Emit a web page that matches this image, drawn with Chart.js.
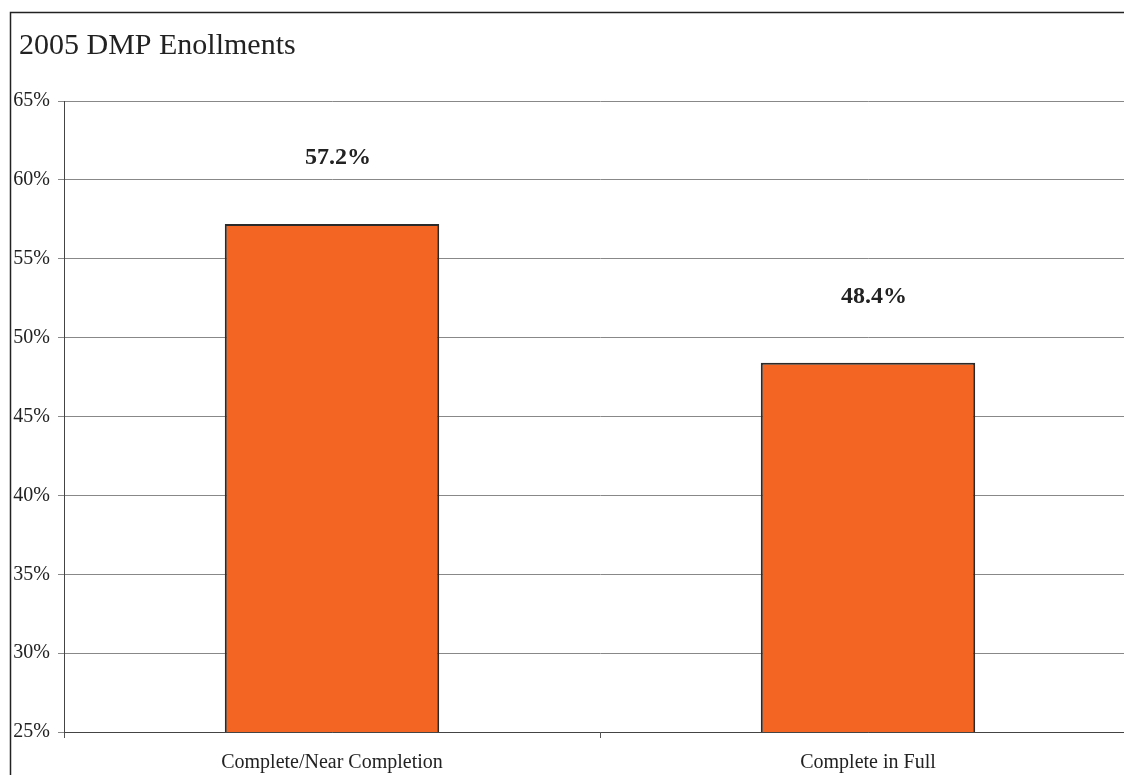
<!DOCTYPE html>
<html><head><meta charset="utf-8">
<script src="https://cdn.jsdelivr.net/npm/chart.js@4/dist/chart.umd.min.js"></script>
<style>
html,body{margin:0;padding:0;overflow:hidden;background:#fff;width:1124px;height:775px;}
#wrap{position:absolute;left:0;top:0;width:1136px;height:775px;}
</style></head>
<body>
<div id="wrap"><canvas id="c" width="1136" height="775"></canvas></div>
<script>
const chartTitle = "2005 DMP Enollments";
const categories = ["Complete/Near Completion", "Complete in Full"];
const values = [57.2, 48.4];
const yTicks = [25, 30, 35, 40, 45, 50, 55, 60, 65];

const FONT = "'Liberation Serif', 'Times New Roman', serif";

const framePlugin = {
  id: 'frame',
  beforeDraw(chart) {
    const ctx = chart.ctx;
    ctx.save();
    ctx.fillStyle = '#fff';
    ctx.fillRect(0, 0, chart.width, chart.height);
    ctx.strokeStyle = '#222';
    ctx.lineWidth = 1.5;
    ctx.strokeRect(10.5, 12.5, 3000, 3000);
    ctx.fillStyle = '#222';
    ctx.font = "30px " + FONT;
    ctx.textAlign = 'left';
    ctx.textBaseline = 'middle';
    ctx.fillText(chartTitle, 19, 46);
    ctx.restore();
  },
  afterDatasetsDraw(chart) {
    const ctx = chart.ctx;
    const meta = chart.getDatasetMeta(0);
    ctx.save();
    ctx.fillStyle = '#222';
    ctx.font = "bold 24px " + FONT;
    ctx.textAlign = 'center';
    ctx.textBaseline = 'middle';
    meta.data.forEach((bar, i) => {
      ctx.fillText(values[i].toFixed(1) + '%', bar.x + 6, bar.y - 66);
    });
    ctx.restore();
  }
};

new Chart(document.getElementById('c'), {
  type: 'bar',
  data: {
    labels: categories,
    datasets: [{
      data: values,
      backgroundColor: '#F36523',
      borderColor: '#2a2a2a',
      borderWidth: 2,
      borderSkipped: false,
      categoryPercentage: 1.0,
      barPercentage: 0.4
    }]
  },
  options: {
    responsive: false,
    animation: false,
    devicePixelRatio: 1,
    layout: { padding: { top: 101, left: 0, right: 0, bottom: 0 } },
    plugins: { legend: { display: false }, title: { display: false }, tooltip: { enabled: false } },
    scales: {
      x: {
        afterFit(s) { s.height = 43; },
        grid: { offset: true, drawOnChartArea: false, drawTicks: true, tickLength: 6, color: '#555' },
        border: { color: '#444', width: 1 },
        ticks: { color: '#222', font: { family: FONT, size: 20 }, padding: 13, maxRotation: 0 }
      },
      y: {
        min: 25, max: 65,
        afterFit(s) { s.width = 64; },
        afterBuildTicks(s) { s.ticks = yTicks.map(v => ({ value: v })); },
        grid: { color: '#888', lineWidth: 1, drawTicks: true, tickLength: 6 },
        border: { color: '#444', width: 1 },
        ticks: { color: '#222', font: { family: FONT, size: 20 }, padding: 8, callback: v => v + '%' }
      }
    }
  },
  plugins: [framePlugin]
});
</script>
</body></html>
